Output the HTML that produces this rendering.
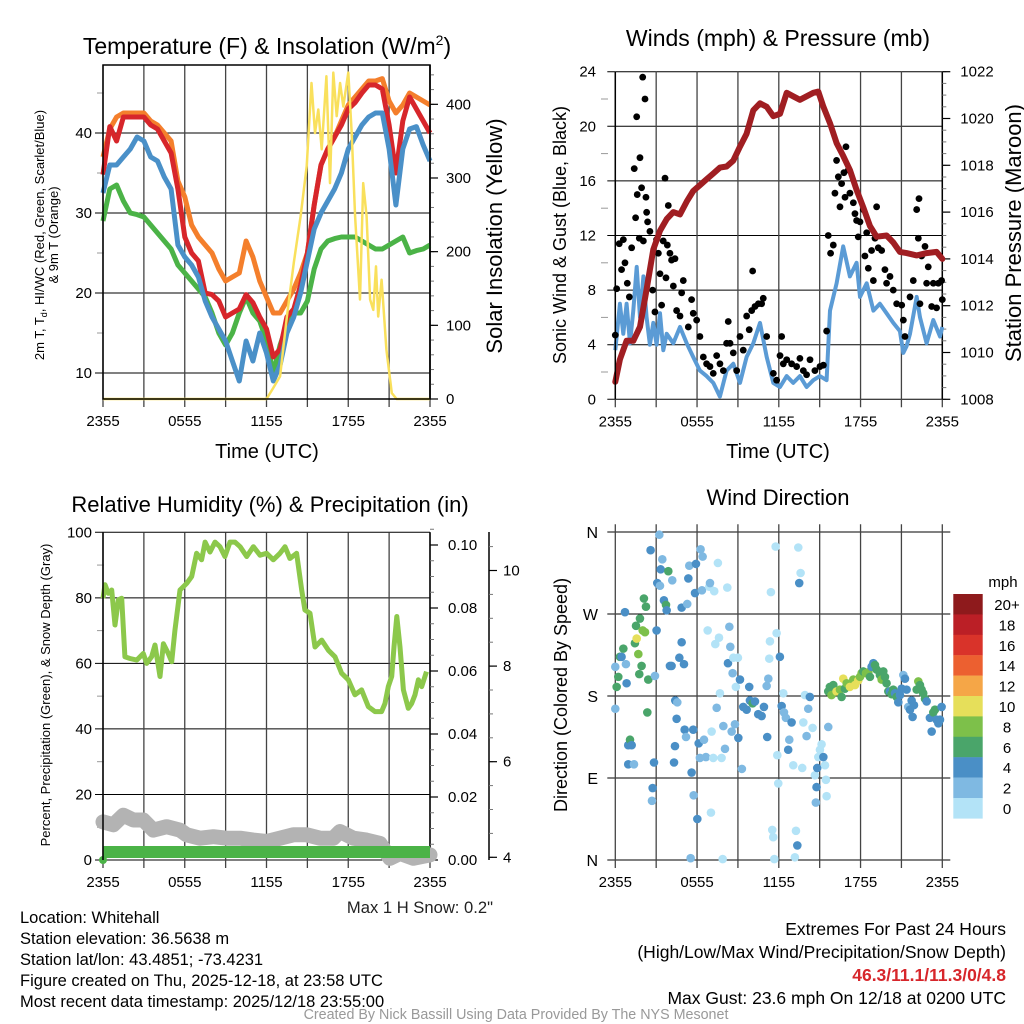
<!DOCTYPE html>
<html><head><meta charset="utf-8"><title>Whitehall Mesonet</title>
<style>
html,body{margin:0;padding:0;background:#fff;}
svg{display:block;font-family:"Liberation Sans",Arial,sans-serif;}
</style></head>
<body>
<svg id="chart" xmlns="http://www.w3.org/2000/svg" width="1024" height="1024" viewBox="0 0 1024 1024">
<rect width="1024" height="1024" fill="#fff"/>
<g id="layer"></g>
<text x="267" y="54" font-size="23" text-anchor="middle">Temperature (F) &amp; Insolation (W/m<tspan dy="-9" font-size="14">2</tspan><tspan dy="9">)</tspan></text>
<text x="778" y="46" font-size="23" text-anchor="middle">Winds (mph) &amp; Pressure (mb)</text>
<text x="270" y="512" font-size="22" text-anchor="middle">Relative Humidity (%) &amp; Precipitation (in)</text>
<text x="778" y="505" font-size="22" text-anchor="middle">Wind Direction</text>
<text x="267" y="458" font-size="20" text-anchor="middle">Time (UTC)</text>
<text x="778" y="458" font-size="20" text-anchor="middle">Time (UTC)</text>
<text transform="translate(44,235) rotate(-90)" font-size="13" text-anchor="middle">2m T, T<tspan dy="3" font-size="9">d</tspan><tspan dy="-3">, HI/WC (Red, Green, Scarlet/Blue)</tspan></text>
<text transform="translate(58,235) rotate(-90)" font-size="13" text-anchor="middle">&amp; 9m T (Orange)</text>
<text transform="translate(502,236) rotate(-90)" font-size="22" text-anchor="middle">Solar Insolation (Yellow)</text>
<text transform="translate(566,235) rotate(-90)" font-size="18" text-anchor="middle">Sonic Wind &amp; Gust (Blue, Black)</text>
<text transform="translate(1021,233) rotate(-90)" font-size="22" text-anchor="middle">Station Pressure (Maroon)</text>
<text transform="translate(50,695) rotate(-90)" font-size="13" text-anchor="middle">Percent, Precipitation (Green), &amp; Snow Depth (Gray)</text>
<text transform="translate(567,695) rotate(-90)" font-size="18" text-anchor="middle">Direction (Colored By Speed)</text>
<text x="493" y="913" font-size="16.6" text-anchor="end" fill="#222">Max 1 H Snow: 0.2"</text>
<g font-size="16.5" fill="#000">
<text x="20" y="923">Location: Whitehall</text>
<text x="20" y="944">Station elevation: 36.5638 m</text>
<text x="20" y="965">Station lat/lon: 43.4851; -73.4231</text>
<text x="20" y="986">Figure created on Thu, 2025-12-18, at 23:58 UTC</text>
<text x="20" y="1007">Most recent data timestamp: 2025/12/18 23:55:00</text>
</g>
<g font-size="17.5" text-anchor="end">
<text x="1006" y="935">Extremes For Past 24 Hours</text>
<text x="1006" y="958">(High/Low/Max Wind/Precipitation/Snow Depth)</text>
<text x="1006" y="981" fill="#d7262b" font-weight="bold">46.3/11.1/11.3/0/4.8</text>
<text x="1006" y="1004">Max Gust: 23.6 mph On 12/18 at 0200 UTC</text>
</g>
<text x="516" y="1019" font-size="14.3" fill="#999" text-anchor="middle">Created By Nick Bassill Using Data Provided By The NYS Mesonet</text>
</svg>
<script>
// ---------- data ----------
const timeLabels = ["2355","0555","1155","1755","2355"];
const halfHours = [0,0.5,1,1.5,2,2.5,3,3.5,4,4.5,5,5.5,6,6.5,7,7.5,8,8.5,9,9.5,10,10.5,11,11.5,12,12.5,13,13.5,14,14.5,15,15.5,16,16.5,17,17.5,18,18.5,19,19.5,20,20.5,21,21.5,22,22.5,23,23.5,24];
const tempRed = [34.8,40.8,39,42,42,42,42,41,40.5,39,37.5,33,27,25,24,20,19.8,19,17,17.5,18,19.8,18.8,17,15.5,12,13,17,18,21,25,31,36,38,39.5,41,43,43.8,45,46,46,45.5,41,35,41.5,44.5,43,41.5,40];
const temp9m = [37,40.5,42,42.5,42.5,42.5,42.5,41.5,41,40,39,34,32,28.5,27,26,25,23,21.5,22,22.5,26.5,24.5,21.5,19.5,17.5,17.5,19,20.5,22.5,25,31,36,38,39.5,41.5,43.5,44.5,45.5,46.5,46.5,46.8,44,42.5,43.5,45,44.5,44,43.5];
const windChill = [32.5,36,36,37,38,39.5,39,37,36.5,34.5,33,26,24.5,23.5,22,19,17,15.5,14,11.5,9,14,11.5,15,12.5,9,11,15,17,20,24,28,30,31.5,33,35,38,39.5,41,42,42.5,42.5,38,31,38,40.5,40.8,38.5,36.5];
const dewPoint = [29,33,33.5,31.5,30,29.8,29.5,28.5,27.5,26.5,25.5,23.5,22.5,21.5,20.5,19.5,17.5,15,13.5,15,17.5,19.5,17.5,16.5,14,10,13.5,16,17.5,17.5,19,23,25.5,26.5,26.8,27,27,27,26.5,26,25.5,25.5,26,26.5,27,25,25.3,25.5,26];
const solarTimes = [0,12,12.5,13,13.5,14,14.5,14.95,15.3,15.56,15.8,16.05,16.4,16.66,16.9,17.15,17.4,17.64,18,18.25,18.5,18.86,19.1,19.35,19.6,19.84,20.04,20.2,20.45,20.8,21.2,21.55,24];
const solarValues = [0,0,15,31,112,185,248,316,429,361,393,339,438,293,443,384,429,397,443,361,248,135,293,248,135,121,180,112,162,67,8,0,0];

const pressTimes = [0,0.34,0.83,1.32,1.81,2.3,2.79,3.28,3.77,4.26,4.75,5.24,5.72,6.21,6.7,7.19,7.68,8.17,8.66,9.15,9.64,10.13,10.62,11.11,11.6,12.09,12.58,13.06,13.55,14.04,14.53,14.9,15.27,15.76,16.24,16.73,17.22,17.71,18.2,18.69,19.18,19.91,20.4,20.89,21.38,22.12,22.85,23.58,24];
const pressValues = [1008.75,1009.7,1010.5,1010.5,1011.1,1012.7,1014.4,1015.2,1015.7,1016.0,1015.9,1016.45,1016.9,1017.15,1017.4,1017.65,1017.9,1017.95,1018.2,1018.8,1019.35,1020.35,1020.65,1020.5,1020.1,1020.2,1021.1,1020.95,1020.8,1020.95,1021.1,1021.15,1020.5,1019.8,1018.95,1018.4,1017.8,1016.95,1016.2,1015.4,1014.95,1015.0,1014.7,1014.3,1014.25,1014.15,1014.25,1014.3,1014.0];
const windTimes = [0,0.34,0.59,0.83,1.08,1.32,1.57,1.81,2.06,2.3,2.54,2.79,3.03,3.28,3.52,3.77,4.26,4.75,5.24,5.72,6.21,6.7,7.19,7.68,8.17,8.66,9.15,9.64,10.13,10.62,11.11,11.6,12.09,12.58,13.06,13.55,14.04,14.53,15.02,15.51,15.76,16.24,16.73,17.22,17.71,17.96,18.45,18.94,19.42,19.91,20.4,20.89,21.14,21.38,21.63,22.12,22.36,22.85,23.34,23.83,24];
const windSpeed = [3.6,7,4.8,7,4.1,6.5,9.7,6,9,6,4,5.6,4,6.3,3.6,4.8,4.1,5.3,4.1,3.1,2.1,1.7,1.2,0.2,2.1,2.6,1.2,3.1,4.1,5.6,3.1,1.2,0.9,1.7,1.2,1.7,0.9,1.4,1.7,1.4,6.5,8.5,11.2,9,10,7.5,8.5,6.5,7,6.3,5.6,5,3.4,3.9,4.8,7.5,6,4.1,5.8,4.6,5.3];
const gustTimes = [0,0.1,0.29,0.46,0.59,0.71,0.88,1.03,1.2,1.39,1.49,1.57,1.61,1.76,1.81,1.93,2.01,2.06,2.18,2.25,2.3,2.37,2.54,2.74,2.91,3.03,3.16,3.28,3.4,3.52,3.65,3.72,3.82,3.89,4.01,4.13,4.26,4.38,4.5,4.75,4.87,4.99,5.36,5.6,5.72,5.97,6.21,6.46,6.7,6.95,7.19,7.44,7.68,7.93,8.17,8.29,8.42,8.66,8.91,9.15,9.39,9.64,9.83,10.01,10.08,10.25,10.5,10.74,10.86,11.11,11.6,11.84,12.09,12.21,12.33,12.58,12.94,13.31,13.55,13.8,14.04,14.29,14.65,15.02,15.27,15.51,15.63,15.8,16.0,16.12,16.24,16.37,16.49,16.61,16.78,16.86,16.93,17.1,17.22,17.47,17.59,17.71,17.83,17.96,18.2,18.32,18.45,18.57,18.81,18.94,19.06,19.18,19.3,19.55,19.79,19.91,20.16,20.4,20.65,21.02,21.14,21.26,21.63,21.87,22.12,22.24,22.29,22.36,22.48,22.73,22.85,22.97,23.22,23.34,23.58,23.71,23.95,24];
const gustSpeed = [4.7,8.1,11.4,9.5,11.7,10.0,8.5,7.5,11.1,16.9,13.3,20.7,15.0,11.8,17.7,15.5,23.6,11.6,22.0,14.8,13.7,13.0,12.3,8.0,6.4,11.7,10.7,9.2,6.9,11.6,16.2,8.9,11.3,14.2,10.7,10.2,8.3,10.3,6.5,6.1,7.8,8.7,5.3,7.3,6.3,5.8,4.6,3.1,2.6,2.4,1.9,3.2,2.6,2.1,4.1,5.7,4.1,3.4,2.1,4.6,3.6,6.1,5.1,6.5,9.4,6.8,7.0,7.0,7.4,4.6,1.9,1.4,3.2,4.6,2.6,2.9,2.6,2.4,3.0,2.1,1.8,2.9,2.1,2.4,2.5,5.0,12.0,10.7,11.3,15.1,17.5,16.3,14.1,15.8,16.6,14.8,18.5,16.8,15.1,14.4,13.6,13.1,11.9,13.0,13.9,10.5,12.2,9.6,10.9,8.7,11.8,14.1,11.1,10.9,9.5,8.5,9.0,8.0,7.0,6.9,5.8,4.6,7.5,8.7,13.9,11.8,14.7,7.0,10.5,11.2,8.5,9.7,6.8,8.5,6.7,8.5,8.7,7.3];

const rhTimes = [0,0.15,0.39,0.64,0.88,1.13,1.37,1.61,1.98,2.47,2.96,3.21,3.57,3.82,4.18,4.43,4.79,5.04,5.28,5.65,6.14,6.51,6.87,7.24,7.49,7.85,8.22,8.59,8.95,9.32,9.69,10.06,10.55,11.04,11.52,12.01,12.5,12.99,13.36,13.72,14.21,14.58,14.82,15.19,15.56,16.05,16.54,17.03,17.51,18.0,18.49,18.98,19.47,19.96,20.45,20.7,20.94,21.19,21.36,21.56,21.8,22.05,22.41,22.66,22.9,23.15,23.39,23.74];
const rhValues = [79.9,84,81.4,82.4,71.7,79.4,79.9,62,61.5,61,63,60,62,65.6,56,66,63,60.5,70,82.4,84.4,86.5,93.6,91.6,97,94,97,95.6,92.6,97,97,95.6,92.6,95.6,93,93.6,91.6,93.6,95.6,92,93.6,82.4,76.3,75.3,65,67.1,64,62,57,55,50.4,51.9,46.8,45.3,45.3,47.8,52.9,56,65,74.3,65,51.9,46.3,47.8,50.4,55,52.9,57.5];
const snowTimes = [0,0.76,1.49,2.23,2.96,3.69,4.67,5.65,6.14,7.12,8.1,9.08,10.06,11.04,12.01,12.99,13.97,14.95,15.93,16.9,17.39,18.37,19.35,20.33,21.06,21.8,22.78,24];
const snowDepth = [4.74,4.68,4.88,4.78,4.78,4.57,4.64,4.57,4.47,4.40,4.43,4.40,4.40,4.36,4.33,4.40,4.47,4.47,4.40,4.40,4.54,4.40,4.36,4.29,3.98,4.08,3.98,4.05];
const precipTimes = [0,24];
const precipValues = [0,0];

const dirLabels = ["N","E","S","W","N"];
const dirTicks = [0,90,180,270,360];
const dirTimes = [0,0,0.1,0.22,0.34,0.46,0.59,0.71,0.78,0.83,0.95,1.08,1.2,0.95,1.37,1.44,1.52,1.57,1.69,1.81,1.93,1.76,2.01,2.1,2.18,2.25,2.42,2.35,2.59,2.74,2.69,2.84,2.91,3.03,3.08,3.23,3.28,3.33,3.45,3.57,3.72,3.77,3.89,4.01,4.13,4.18,4.31,4.38,4.4,4.5,4.55,4.7,4.87,4.87,5.04,5.09,5.19,5.28,5.36,5.43,5.53,5.6,5.72,5.75,5.85,5.92,6.02,6.12,6.21,6.26,6.36,6.41,6.51,6.65,6.78,6.9,6.95,7.02,7.07,7.19,7.26,7.34,7.44,7.53,7.61,7.68,7.8,7.88,7.93,8.05,8.22,8.27,8.37,8.44,8.54,8.61,8.66,8.78,8.85,9.0,9.03,9.15,9.29,9.39,9.64,9.83,9.88,10.08,10.25,10.49,10.74,10.91,11.11,11.15,11.23,11.3,11.35,11.42,11.52,11.59,11.67,11.77,11.84,11.89,11.96,12.08,12.21,12.33,12.38,12.52,12.69,12.77,12.94,13.06,13.18,13.26,13.36,13.43,13.5,13.6,13.72,13.8,13.92,14.04,14.16,14.28,14.48,14.65,14.72,14.77,14.82,14.9,15.02,15.14,15.27,15.39,15.46,15.51,15.63,15.63,15.75,15.87,16.0,16.24,16.49,16.61,16.73,16.85,16.98,17.22,17.47,17.59,17.83,17.96,18.08,18.2,18.4,18.57,18.69,18.81,18.94,19.06,19.18,19.42,19.55,19.67,19.79,19.91,20.04,20.16,20.28,20.4,20.53,20.65,20.77,20.89,21.02,21.14,21.26,21.38,21.5,21.63,21.75,21.82,21.92,22.12,22.24,22.36,22.48,22.6,22.73,22.85,23.09,23.22,23.34,23.46,23.58,23.71,23.83,23.95];
const dirDegrees = [212,166,190,201,223,223,232,272,215,194,126,132,126,105,105,238,257,243,226,265,213,204,252,287,250,278,198,162,340,79,65,107,202,252,304,357,301,319,330,285,280,274,317,213,213,307,107,125,175,155,173,222,239,277,215,143,135,281,309,323,2,96,143,71,293,325,45,128,112,341,296,333,132,113,252,300,304,52,141,112,295,237,167,326,244,183,112,1,147,122,299,216,256,234,141,205,222,149,190,222,134,198,100,168,165,190,175,172,174,160,158,168,191,135,199,221,240,294,33,25,1,344,249,115,84,223,169,183,162,156,121,132,151,104,3,32,16,343,304,315,101,151,181,136,166,179,145,93,63,80,101,113,121,127,113,104,88,70,146,185,190,181,192,185,187,179,199,188,194,190,198,192,197,201,205,207,205,206,201,212,216,214,209,203,198,207,201,194,185,185,182,187,183,179,173,181,188,203,199,187,168,165,175,157,170,187,196,192,187,183,177,174,156,141,162,165,154,150,154,168];
const dirSpeeds = [3,3,7,7,7,5,7,5,3,5,5,7,5,5,3,7,7,11,9,7,7,7,9,7,9,7,7,7,5,5,3,5,3,5,5,3,3,5,3,5,7,5,7,5,5,3,5,5,5,5,3,5,5,5,5,5,3,3,5,3,3,5,5,3,5,5,5,5,3,3,3,3,3,3,1,1,3,1,1,1,1,1,3,1,1,1,1,1,3,3,1,5,3,3,3,3,1,3,1,1,5,5,3,5,5,5,5,7,5,5,5,5,3,5,3,1,1,1,1,1,1,1,1,1,1,5,5,1,3,3,5,3,5,1,1,1,5,1,5,1,1,1,1,3,3,5,1,1,3,5,5,1,1,1,5,1,1,1,3,7,7,9,7,11,9,7,11,7,9,11,9,11,11,9,9,7,9,9,7,5,5,7,7,7,9,7,7,7,7,5,7,7,5,7,5,5,5,3,5,5,3,5,5,5,5,7,9,7,7,7,7,5,5,5,7,7,5,5,5,5];
const speedBins = ["20+","18","16","14","12","10","8","6","4","2","0"];
const speedColors = ["#8e1a1c","#bb1f26","#d9332a","#ec6030","#f5a647","#e6df5a","#7dc04a","#4aa56a","#4a8fc6","#7fb9e2","#b3e3f7"];

// ---------- helpers ----------
const NS = "http://www.w3.org/2000/svg";
const layer = document.getElementById("layer");
function mk(tag, attrs, parent) {
  const e = document.createElementNS(NS, tag);
  for (const k in attrs) e.setAttribute(k, attrs[k]);
  (parent || layer).appendChild(e);
  return e;
}
function txt(x, y, s, size, anchor, parent) {
  const e = mk("text", {x: x, y: y, "font-size": size, "text-anchor": anchor || "middle"}, parent);
  e.textContent = s;
  return e;
}
function pathD(ts, vs, xf, yf) {
  let d = "";
  for (let i = 0; i < ts.length; i++) d += (i ? "L" : "M") + xf(ts[i]).toFixed(1) + "," + yf(vs[i]).toFixed(1);
  return d;
}
function colorForSpeed(s) {
  const idx = Math.min(10, Math.max(0, 10 - Math.floor(s / 2)));
  return speedColors[idx];
}

function timeAxis(x0, x1, yBot, yTop, name) {
  const g = mk("g", {});
  
  
  for (let h = 0; h <= 24; h += 3) {
    const x = x0 + h * (x1 - x0) / 24;
    const l = mk("line", {x1: x, x2: x, y1: yTop, y2: yBot + 8, stroke: "#444", "stroke-width": 1.3}, g);
    
    
  }
  for (let i = 0; i < timeLabels.length; i++) {
    const t = txt(x0 + i * 6 * (x1 - x0) / 24, yBot + 27, timeLabels[i], 15, "middle", g);
    
    
  }
}
function hGrid(x0, x1, ys, name) {
  ys.forEach(function (y) {
    const l = mk("line", {x1: x0 - 8, x2: x1, y1: y, y2: y, stroke: "#000", "stroke-width": 1});
    
    
  });
}
function rightAxis(x, yTopLine, yBotLine, majors, minors, yf, fmt, name, dx) {
  const g = mk("g", {});
  
  
  const l = mk("line", {x1: x, x2: x, y1: yTopLine, y2: yBotLine, stroke: "#000", "stroke-width": 1.5}, g);
  
  
  minors.forEach(function (v) {
    const m = mk("line", {x1: x, x2: x + 4, y1: yf(v), y2: yf(v), stroke: "#777", "stroke-width": 1}, g);
    
    
  });
  majors.forEach(function (v) {
    const m = mk("line", {x1: x, x2: x + 8, y1: yf(v), y2: yf(v), stroke: "#000", "stroke-width": 1.2}, g);
    
    
    const t = txt(x + (dx || 14), yf(v) + 5, fmt(v), 15, "start", g);
    
    
  });
}
function leftLabels(x, vals, yf, fmt, minors) {
  vals.forEach(function (v) {
    const t = txt(x, yf(v) + 5, fmt(v), 15, "end");
    
    
  });
  (minors || []).forEach(function (v) {
    const m = mk("line", {x1: x + 5, x2: x + 12, y1: yf(v), y2: yf(v), stroke: "#999", "stroke-width": 1});
    
    
  });
}
function range(a, b, s) { const r = []; for (let v = a; v <= b + 1e-9; v += s) r.push(+v.toFixed(4)); return r; }

// ===== Panel 1 =====
const P1 = {x0: 103, x1: 430, yb: 399, yt: 65};
const x1f = function (t) { return P1.x0 + t * (P1.x1 - P1.x0) / 24; };
const yTemp = function (v) { return 399 - (v - 6.75) * 8; };
const ySolar = function (v) { return 399 - v * 0.7367; };
hGrid(P1.x0, P1.x1, [10, 20, 30, 40].map(yTemp), "temp");
timeAxis(P1.x0, P1.x1, P1.yb, P1.yt, "temp");
leftLabels(92, [10, 20, 30, 40], yTemp, String, [15, 25, 35, 45]);
rightAxis(P1.x1, P1.yt, P1.yb, range(0, 400, 100), range(0, 440, 20), ySolar, String, "insolation-axis", 16);
let e;
e = mk("path", {d: pathD(halfHours, temp9m, x1f, yTemp), fill: "none", stroke: "#f47f2c", "stroke-width": 5, "stroke-linejoin": "round"});


e = mk("path", {d: pathD(halfHours, dewPoint, x1f, yTemp), fill: "none", stroke: "#4bb347", "stroke-width": 5, "stroke-linejoin": "round"});


e = mk("path", {d: pathD(halfHours, tempRed, x1f, yTemp), fill: "none", stroke: "#d7262b", "stroke-width": 5, "stroke-linejoin": "round"});


e = mk("path", {d: pathD(halfHours, windChill, x1f, yTemp), fill: "none", stroke: "#4a90c8", "stroke-width": 5, "stroke-linejoin": "round"});


e = mk("path", {d: pathD(solarTimes, solarValues, x1f, ySolar), fill: "none", stroke: "#f9e05c", "stroke-width": 2.5, "stroke-linejoin": "round"});


e = mk("rect", {x: P1.x0, y: P1.yt, width: P1.x1 - P1.x0, height: P1.yb - P1.yt, fill: "none", stroke: "#000", "stroke-width": 1.5});



// ===== Panel 2 =====
const P2 = {x0: 615.3, x1: 942.3, yb: 399.3, yt: 71.7};
const x2f = function (t) { return P2.x0 + t * (P2.x1 - P2.x0) / 24; };
const yWind = function (v) { return 399.3 - v * 13.65; };
const yPress = function (p) { return 399.3 - (p - 1008) * 23.4; };
hGrid(P2.x0, P2.x1, range(0, 24, 4).map(yWind), "wind");
timeAxis(P2.x0, P2.x1, P2.yb, P2.yt, "wind");
leftLabels(596, range(0, 24, 4), yWind, String, range(2, 22, 4));
rightAxis(P2.x1, P2.yt, P2.yb, range(1008, 1022, 2), range(1008, 1022, 0.5), yPress, String, "pressure-axis", 18);
e = mk("path", {d: pathD(windTimes, windSpeed, x2f, yWind), fill: "none", stroke: "#5b9bd5", "stroke-width": 4, "stroke-linejoin": "round"});


const gustG = mk("g", {fill: "#000"});


for (let i = 0; i < gustTimes.length; i++) {
  const c = mk("circle", {cx: x2f(gustTimes[i]), cy: yWind(gustSpeed[i]), r: 3.4}, gustG);
  
  
}
e = mk("path", {d: pathD(pressTimes, pressValues, x2f, yPress), fill: "none", stroke: "#a01e22", "stroke-width": 6, "stroke-linejoin": "round", "stroke-linecap": "round"});


e = mk("line", {x1: P2.x0, x2: P2.x0, y1: P2.yt, y2: P2.yb, stroke: "#000", "stroke-width": 1.5});



// ===== Panel 3 =====
const P3 = {x0: 103, x1: 430, yb: 860, yt: 532.3};
const x3f = function (t) { return P3.x0 + t * (P3.x1 - P3.x0) / 24; };
const yRH = function (v) { return 860 - v * 3.277; };
const yPrec = function (v) { return 860 - v * 3150; };
const ySnow = function (d) { return 857.3 - (d - 4) * 47.8; };
hGrid(P3.x0, P3.x1, range(0, 100, 20).map(yRH), "humidity");
timeAxis(P3.x0, P3.x1, P3.yb, P3.yt, "humidity");
leftLabels(92, range(0, 100, 20), yRH, String, range(10, 90, 20));
rightAxis(P3.x1, P3.yt, P3.yb, range(0, 0.1, 0.02), range(0, 0.105, 0.005), yPrec, function (v) { return v.toFixed(2); }, "precipitation-axis", 18);
rightAxis(489, 532, 860, range(4, 10, 2), range(4, 10.5, 0.5), ySnow, String, "snow-depth-axis", 14);
e = mk("path", {d: pathD(snowTimes, snowDepth, x3f, ySnow), fill: "none", stroke: "#b3b3b3", "stroke-width": 15, "stroke-linejoin": "round", "stroke-linecap": "round"});


e = mk("path", {d: pathD(precipTimes, precipValues, x3f, function (v) { return yPrec(v) - 8; }), fill: "none", stroke: "#4bb347", "stroke-width": 12});


e = mk("circle", {cx: x3f(0), cy: yPrec(0), r: 4, fill: "#4bb347"});


e = mk("path", {d: pathD(rhTimes, rhValues, x3f, yRH), fill: "none", stroke: "#8cc84b", "stroke-width": 5, "stroke-linejoin": "round"});


e = mk("line", {x1: P3.x0, x2: P3.x0, y1: P3.yt, y2: P3.yb, stroke: "#000", "stroke-width": 1.5});



// ===== Panel 4 =====
const P4 = {x0: 615.3, x1: 942.3, yb: 860, yt: 532.3};
const x4f = function (t) { return P4.x0 + t * (P4.x1 - P4.x0) / 24; };
const yDir = function (d) { return 860 - d * 0.9111; };
hGrid(P4.x0, P4.x1 + 8, dirTicks.map(yDir), "direction");
timeAxis(P4.x0, P4.x1, P4.yb, P4.yt - 8, "direction");
for (let i = 0; i < dirLabels.length; i++) {
  const t = txt(598, yDir(dirTicks[i]) + 6, dirLabels[i], 16, "end");
  
  
}
const dirG = mk("g", {});


for (let i = 0; i < dirTimes.length; i++) {
  const c = mk("circle", {cx: x4f(dirTimes[i]), cy: yDir(dirDegrees[i]), r: 4.3, fill: colorForSpeed(dirSpeeds[i])}, dirG);
  
  
}
const cbG = mk("g", {});


const cbTitle = txt(1003, 587, "mph", 15, "middle", cbG);


for (let i = 0; i < speedBins.length; i++) {
  const r = mk("rect", {x: 953.3, y: 594 + i * 20.4, width: 29.4, height: 20.6, fill: speedColors[i]}, cbG);
  
  
  const t = txt(1007, 594 + i * 20.4 + 16, speedBins[i], 15, "middle", cbG);
  
  
}
</script>
</body></html>
